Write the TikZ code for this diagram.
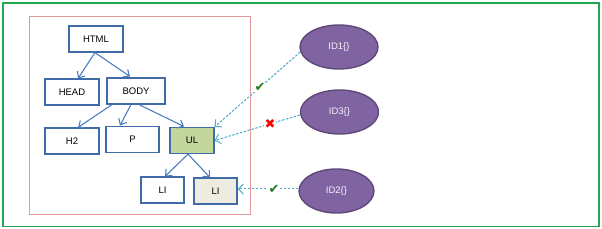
\documentclass[tikz,border=0pt]{standalone}
\usepackage{fontspec}
\setmainfont{Liberation Sans}
\newfontfamily\symfont{DejaVu Sans}
\usetikzlibrary{shapes.geometric,arrows.meta}
\definecolor{boxblue}{HTML}{3F6BA8}
\definecolor{arrblue}{HTML}{4A7EC0}
\definecolor{dashblue}{HTML}{4BACC6}
\definecolor{ulgreen}{HTML}{C3D69B}
\definecolor{ligray}{HTML}{EEECE1}
\definecolor{purp}{HTML}{8064A2}
\definecolor{purpd}{HTML}{5F497A}
\definecolor{outgreen}{HTML}{1FA84F}
\definecolor{pinkr}{HTML}{E59A9A}
\definecolor{chk}{HTML}{1E7B1E}
\begin{document}
\begin{tikzpicture}[x=1pt,y=-1pt,
  tbox/.style={draw=boxblue,line width=1.2pt,fill=white,minimum width=#1,minimum height=26pt,inner sep=0pt,font=\fontsize{9.5}{11}\selectfont},
  tbox/.default=54pt,
  idell/.style={ellipse,draw=purpd,line width=1.4pt,fill=purp,minimum width=78pt,minimum height=44pt,inner sep=0pt,text=white!92!purp,font=\fontsize{9.5}{11}\selectfont},
  tarr/.style={draw=arrblue,line width=1.1pt,-{Straight Barb[length=5pt,width=9pt]}},
  darr/.style={draw=dashblue,line width=1pt,dash pattern=on 2.5pt off 1.5pt,-{Straight Barb[length=5pt,width=10pt]}},
  symb/.style={font=\symfont\fontsize{13}{13}\selectfont,fill=white,inner sep=0.5pt}
]
\useasboundingbox (0,0) rectangle (602,229);
\draw[outgreen,line width=1.2pt] (3,3) rectangle (599,226.5);
\draw[pinkr,line width=0.9pt] (29,16) rectangle (250.5,214);

\node[tbox] (html) at (96,39) {HTML};
\node[tbox] (head) at (72,92) {HEAD};
\node[tbox=58pt] (body) at (136,91) {BODY};
\node[tbox] (h2) at (72,141) {H2};
\node[tbox=53pt] (p) at (132.5,139.5) {P};
\node[tbox=44pt,fill=ulgreen] (ul) at (192,140.5) {UL};
\node[tbox=43pt] (li1) at (162.5,190) {LI};
\node[tbox=43pt,fill=ligray] (li2) at (215.5,191) {LI};

\node[idell] (id1) at (339,47) {ID1\{\}};
\node[idell] (id3) at (339.5,112) {ID3\{\}};
\node[idell,minimum width=75pt] (id2) at (336.5,191) {ID2\{\}};

\draw[tarr] (html.south) ++(-1,0) coordinate (h1) -- (78,78.5);
\draw[tarr] (h1) -- (130,76.5);
\draw[tarr] (body.south) ++(-24,0) coordinate (b1) -- (78,127.5);
\draw[tarr] (body.south) ++(-5,0) coordinate (b2) -- (120,125.5);
\draw[tarr] (body.south) ++(3,0) coordinate (b3) -- (184,126.5);
\draw[tarr] (ul.south) ++(-4,0) coordinate (u1) -- (165,176.5);
\draw[tarr] (u1) -- (210,177.5);

\draw[darr] (id1.west) ++(1,5) coordinate (c1) -- (ul.north east) node[pos=0.47,symb,text=chk] {✔};
\draw[darr] (id3.west) ++(0,3) coordinate (c3) -- (ul.east) node[pos=0.35,symb,text=red] {✖};
\draw[darr] (id2.west) ++(0,-2) coordinate (c2) -- (li2.east |- c2) node[pos=0.4,symb,text=chk] {✔};
\end{tikzpicture}
\end{document}
